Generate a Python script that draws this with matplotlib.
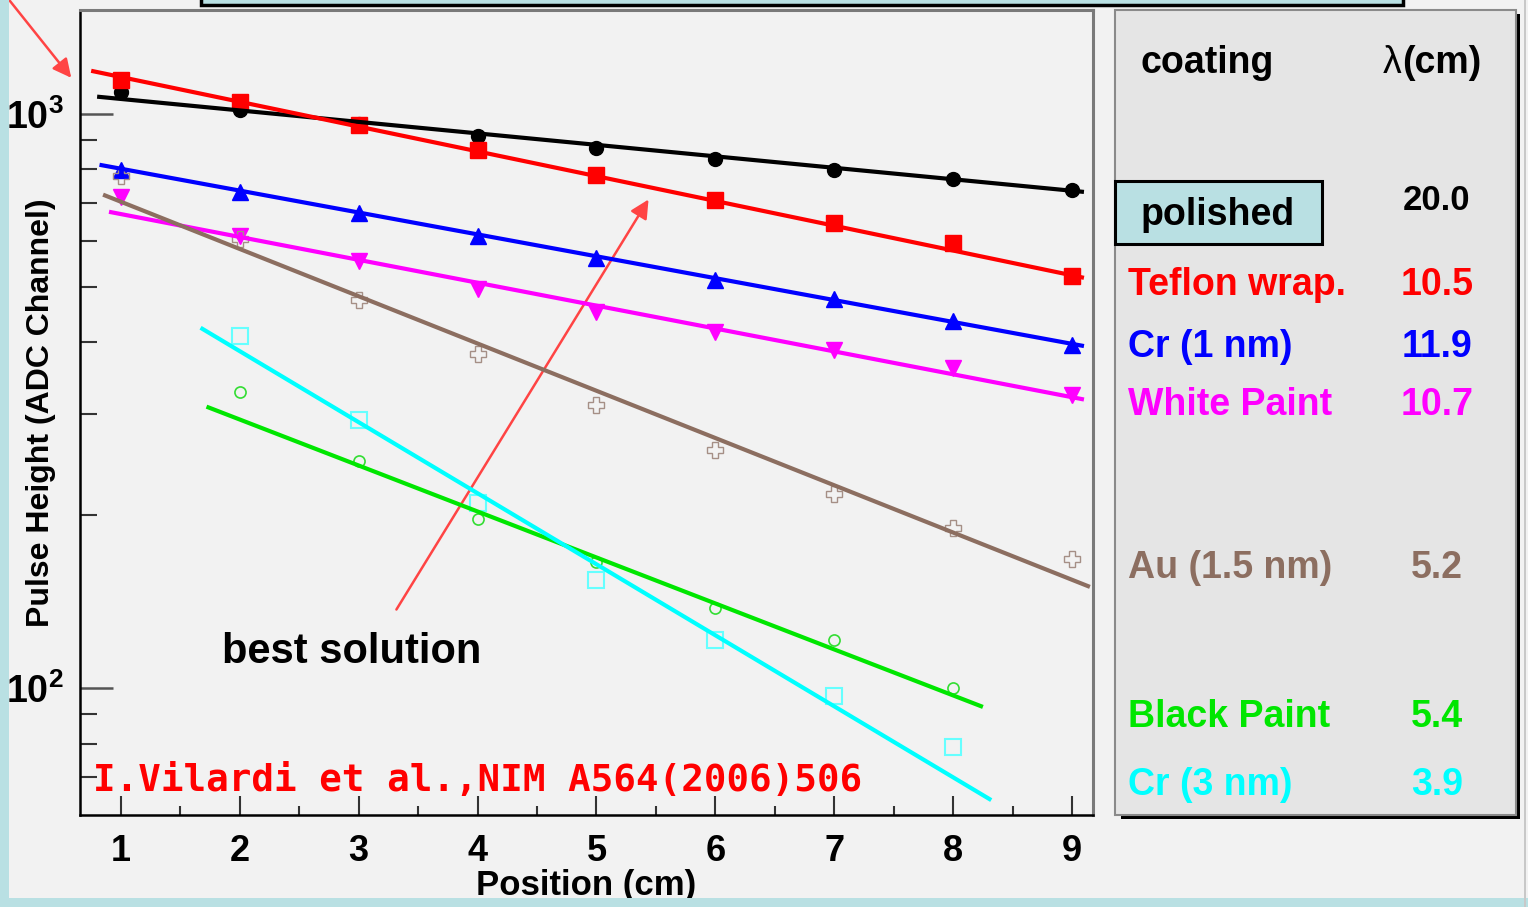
import numpy as np
import matplotlib
matplotlib.use('Agg')
import matplotlib.pyplot as plt
from matplotlib.patches import Rectangle
from matplotlib.ticker import FixedLocator, FixedFormatter, NullFormatter

plt.rcParams.update({
    'font.family': ['Liberation Sans', 'DejaVu Sans'],
    'font.weight': 'bold',
    'mathtext.fontset': 'custom',
    'mathtext.rm': 'Liberation Sans',
    'mathtext.bf': 'Liberation Sans:bold',
})

# measured pulse heights (ADC channel) vs position (cm)
pos = [1, 2, 3, 4, 5, 6, 7, 8, 9]
polished = [1092, 1016, 961, 916, 873, 835, 799, 770, 737]
teflon = [1146, 1049, 957, 866, 783, 708, 646, 596, 522]
cr_1nm = [799, 731, 672, 613, 561, 514, 476, 436, 396]
white_paint = [717, 613, 555, 496, 452, 417, 388, 361, 324]
au_15nm = [780, 606, 474, 382, 311, 260, 218, 190, 168]

pos_low = [2, 3, 4, 5, 6, 7, 8]
black_paint = [328, 249, 197, 166, 138, 121, 100]
cr_3nm = [410, 293, 210, 154, 121, 97, 79]

# exponential fit lines, start / end points
fit_polished = ([0.80, 9.10], [1071, 731])
fit_teflon = ([0.75, 9.10], [1188, 518])
fit_cr_1nm = ([0.82, 9.10], [815, 394])
fit_white = ([0.90, 9.10], [675, 318])
fit_au = ([0.85, 9.15], [723, 150])
fit_black = ([1.72, 8.25], [309, 92.7])
fit_cr_3nm = ([1.67, 8.32], [424, 63.8])

coatings = ['Teflon wrap.', 'Cr (1 nm)', 'White Paint', 'Au (1.5 nm)', 'Black Paint', 'Cr (3 nm)']
lambdas = ['10.5', '11.9', '10.7', '5.2', '5.4', '3.9']
polished_lambda = '20.0'

W, H = 1528, 907
BG = '#f2f2f2'
PALE = '#b9e0e3'
BROWN = '#8c6e60'

fig = plt.figure(figsize=(W / 100, H / 100), dpi=100, facecolor=BG)


def px(x, y):
    # figure fraction from pixel position measured from top-left
    return x / W, 1 - y / H


ax = fig.add_axes([80 / W, 1 - 815 / H, (1093 - 80) / W, (815 - 10) / H], facecolor=BG)
ax.set_yscale('log')
ax.set_xlim(0.656, 9.176)
ax.set_ylim(60.1, 1516)

series = [
    (pos, polished, fit_polished, 'black', 'o', 10, 'black', 'black', 1),
    (pos, teflon, fit_teflon, '#ff0000', 's', 11, '#ff0000', '#ff0000', 1),
    (pos, cr_1nm, fit_cr_1nm, '#0000ff', '^', 11, '#0000ff', '#0000ff', 1),
    (pos, white_paint, fit_white, '#ff00ff', 'v', 11, '#ff00ff', '#ff00ff', 1),
    (pos, au_15nm, fit_au, BROWN, 'P', 12, 'none', '#a58f86', 1.0),
    (pos_low, black_paint, fit_black, '#00e600', 'o', 8, 'none', '#33dd33', 1.2),
    (pos_low, cr_3nm, fit_cr_3nm, '#00ffff', 's', 12, 'none', '#66ffff', 1.5),
]
for xs, ys, fit, col, mk, ms, mfc, mec, mew in series:
    ax.plot(xs, ys, linestyle='none', marker=mk, markersize=ms,
            markerfacecolor=mfc, markeredgecolor=mec, markeredgewidth=mew, zorder=3)
    ax.plot(fit[0], fit[1], color=col, lw=3, zorder=4, solid_capstyle='butt')

# ROOT-like frame and ticks
for side in ['left', 'bottom']:
    ax.spines[side].set_color('black')
    ax.spines[side].set_linewidth(1.8)
for side in ['top', 'right']:
    ax.spines[side].set_color('#7a7a7a')
    ax.spines[side].set_linewidth(2.2)

ax.xaxis.set_major_locator(FixedLocator(pos))
ax.xaxis.set_minor_locator(FixedLocator(np.arange(1.5, 9.0, 1.0)))
ax.xaxis.set_minor_formatter(NullFormatter())
ax.tick_params(axis='x', which='major', direction='in', length=14, width=1.5,
               color='#333333', pad=14, labelsize=26)
ax.tick_params(axis='x', which='minor', direction='in', length=6.5, width=1.5, color='#333333')

ax.yaxis.set_major_locator(FixedLocator([100, 1000]))
ax.yaxis.set_major_formatter(FixedFormatter([r'$\mathbf{10^{2}}$', r'$\mathbf{10^{3}}$']))
ax.yaxis.set_minor_locator(FixedLocator([60, 70, 80, 90, 200, 300, 400, 500, 600, 700, 800, 900]))
ax.yaxis.set_minor_formatter(NullFormatter())
ax.tick_params(axis='y', which='major', direction='in', length=24, width=1.8,
               color='#555555', pad=12, labelsize=27)
ax.tick_params(axis='y', which='minor', direction='in', length=12, width=1.5, color='#333333')

ax.set_xlabel('Position (cm)', fontsize=25, fontweight='bold', labelpad=0)
ax.set_ylabel('Pulse Height (ADC Channel)', fontsize=23, fontweight='bold')
ax.yaxis.set_label_coords((56 - 80) / 1013, 0.5)

# annotations inside the plot
ax.annotate('', xy=(5.45, 716), xytext=(3.305, 135.7),
            arrowprops=dict(arrowstyle='-|>', color='#ff4444', lw=1.8, mutation_scale=28))
fig.text(*px(222, 663), 'best solution', fontsize=30, fontweight='bold', color='black', va='baseline')
fig.text(*px(93, 791), 'I.Vilardi et al.,NIM A564(2006)506', fontsize=27, fontweight='bold',
         family='DejaVu Sans Mono', color='#ff0000', va='baseline')

# arrow at top-left pointing to the axis
ax.annotate('', xy=px(73, 80), xytext=px(6, -4), xycoords='figure fraction', textcoords='figure fraction',
            arrowprops=dict(arrowstyle='-|>', color='#ff4444', lw=1.8, mutation_scale=28), annotation_clip=False)

# decoration: pale strips and cut-off title box
fig.patches.append(Rectangle((0, 0), 9 / W, 1, transform=fig.transFigure, facecolor=PALE, edgecolor='none'))
fig.patches.append(Rectangle((0, 0), 1, 9 / H, transform=fig.transFigure, facecolor=PALE, edgecolor='none'))
fig.patches.append(Rectangle(px(201, 5), 1202 / W, 10 / H, transform=fig.transFigure,
                             facecolor=PALE, edgecolor='black', lw=2.5))
fig.patches.append(Rectangle(px(1524, 907), 1.5 / W, 1, transform=fig.transFigure,
                             facecolor='#c8c8c8', edgecolor='none'))

# legend panel with shadow
fig.patches.append(Rectangle(px(1121, 819), 399 / W, 805 / H, transform=fig.transFigure,
                             facecolor='black', edgecolor='none'))
fig.patches.append(Rectangle(px(1115, 815), 401 / W, 805 / H, transform=fig.transFigure,
                             facecolor='#e5e5e5', edgecolor='#8a8a8a', lw=1.5))
fig.patches.append(Rectangle(px(1115, 244), 207 / W, 63 / H, transform=fig.transFigure,
                             facecolor=PALE, edgecolor='black', lw=2.2))

fig.text(*px(1140, 73), 'coating', fontsize=27, fontweight='bold', va='baseline')
fig.text(*px(1383, 73), '\u03bb', fontsize=27, fontweight='normal', va='baseline')
fig.text(*px(1402, 73), '(cm)', fontsize=27, fontweight='bold', va='baseline')
fig.text(*px(1218, 225), 'polished', fontsize=27, fontweight='bold', va='baseline', ha='center')
fig.text(*px(1436, 210), polished_lambda, fontsize=25, fontweight='bold', va='baseline', ha='center')

entry_colors = ['#ff0000', '#0000ff', '#ff00ff', BROWN, '#00e600', '#00ffff']
entry_base = [295, 357, 415, 578, 727, 795]
for name, lam, col, yb in zip(coatings, lambdas, entry_colors, entry_base):
    fig.text(*px(1128, yb), name, fontsize=27, fontweight='bold', color=col, va='baseline')
    fig.text(*px(1437, yb), lam, fontsize=27, fontweight='bold', color=col, va='baseline', ha='center')

fig.savefig('out.png', dpi=100, facecolor=BG)
